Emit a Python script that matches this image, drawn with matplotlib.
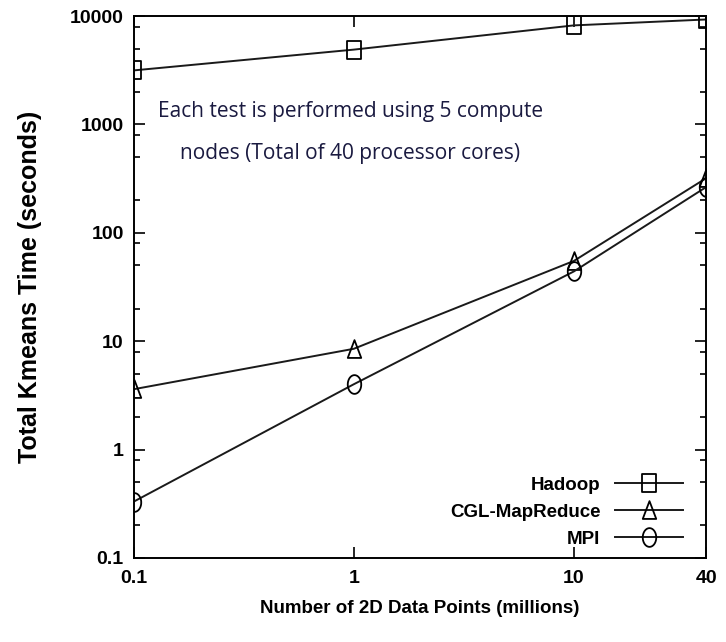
import numpy as np
import matplotlib
matplotlib.use('Agg')
import matplotlib.pyplot as plt
from matplotlib.path import Path
from matplotlib.ticker import LogLocator, NullLocator, FixedLocator, FixedFormatter

# data points (millions) and times (seconds)
x_points = [0.1, 1, 10, 40]
hadoop = [3150, 4900, 8200, 9300]
cgl = [3.6, 8.5, 55, 320]
mpi = [0.33, 4.0, 44, 265]

x_ticks = [0.1, 1, 10, 40]
x_ticklabels = ['0.1', '1', '10', '40']
y_ticks = [0.1, 1, 10, 100, 1000, 10000]
y_ticklabels = ['0.1', '1', '10', '100', '1000', '10000']

plt.rcParams['font.family'] = ['Liberation Sans', 'DejaVu Sans']

# the original picture is squeezed sideways, so markers are taller than wide
w = 0.36
sq = Path([(-w, -0.5), (w, -0.5), (w, 0.5), (-w, 0.5), (-w, -0.5)],
          [Path.MOVETO, Path.LINETO, Path.LINETO, Path.LINETO, Path.CLOSEPOLY])
tri = Path([(0, 0.5), (w, -0.45), (-w, -0.45), (0, 0.5)],
           [Path.MOVETO, Path.LINETO, Path.LINETO, Path.CLOSEPOLY])
th = np.linspace(0, 2 * np.pi, 41)
ell = Path(np.column_stack([w * np.cos(th), 0.5 * np.sin(th)]))

fig = plt.figure(figsize=(7.26, 6.42), dpi=100)
ax = fig.add_axes([0.184, 0.131, 0.789, 0.844])

style = dict(color='#1a1a1a', lw=1.4, markersize=13.5, markerfacecolor='none',
             markeredgecolor='black', markeredgewidth=1.3)
ax.plot(x_points, hadoop, marker=sq, label='Hadoop', **style)
ax.plot(x_points, cgl, marker=tri, label='CGL-MapReduce', **style)
ax.plot(x_points, mpi, marker=ell, label='MPI', **style)

ax.set_xscale('log')
ax.set_yscale('log')
ax.set_xlim(0.1, 40)
ax.set_ylim(0.1, 10000)

ax.xaxis.set_major_locator(FixedLocator(x_ticks))
ax.xaxis.set_major_formatter(FixedFormatter(x_ticklabels))
ax.xaxis.set_minor_locator(NullLocator())
ax.yaxis.set_major_locator(FixedLocator(y_ticks))
ax.yaxis.set_major_formatter(FixedFormatter(y_ticklabels))
ax.yaxis.set_minor_locator(LogLocator(base=10, subs=[2, 5, 8]))

ax.tick_params(which='both', direction='in', top=True, right=True,
               width=1.2, labelsize=14)
ax.tick_params(axis='y', pad=7)
ax.tick_params(axis='x', pad=9)
ax.tick_params(which='major', length=8)
ax.tick_params(which='minor', length=4.5)
for lab in ax.get_xticklabels() + ax.get_yticklabels():
    lab.set_fontweight('bold')
for sp in ax.spines.values():
    sp.set_linewidth(1.4)

ax.set_xlabel('Number of 2D Data Points (millions)', fontsize=13.5,
              fontweight='bold', labelpad=9)
ax.set_ylabel('Total Kmeans Time (seconds)', fontsize=18,
              fontweight='bold', labelpad=20)

note_font = ['Open Sans', 'DejaVu Sans']
ax.text(0.378, 0.823, 'Each test is performed using 5 compute',
        transform=ax.transAxes, ha='center', va='center', fontsize=15,
        family=note_font, color='#1a1a40')
ax.text(0.378, 0.747, 'nodes (Total of 40 processor cores)',
        transform=ax.transAxes, ha='center', va='center', fontsize=15,
        family=note_font, color='#1a1a40')

leg = ax.legend(loc='lower right', frameon=False, markerfirst=False,
                handlelength=3.6, fontsize=13.5, labelspacing=0.52,
                borderaxespad=0.0, bbox_to_anchor=(0.972, 0.005))
for t in leg.get_texts():
    t.set_fontweight('bold')

fig.savefig('out.png', dpi=100)
